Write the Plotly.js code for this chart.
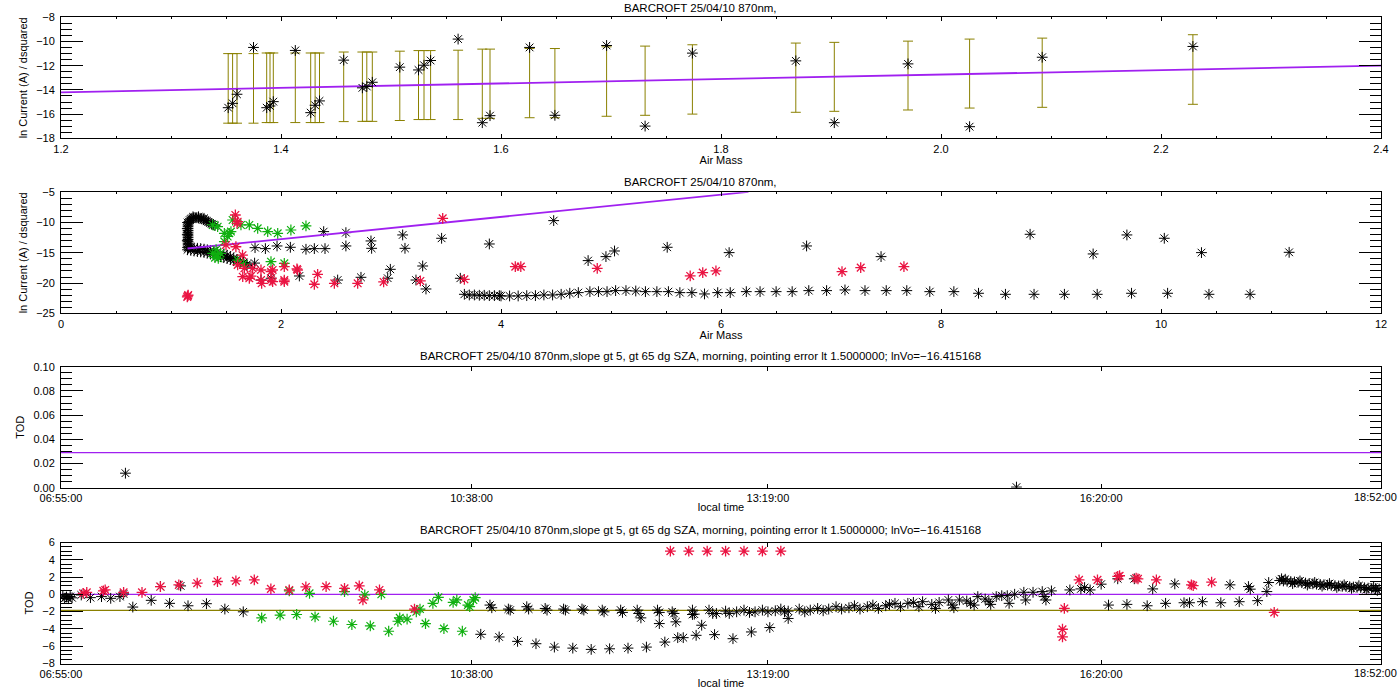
<!DOCTYPE html>
<html>
<head>
<meta charset="utf-8">
<script src="https://cdn.plot.ly/plotly-3.0.1.min.js"></script>
<style>html,body{margin:0;padding:0;background:#fff;}#chart{width:1400px;height:700px;}</style>
</head>
<body>
<div id="chart"></div>
<script>
// ---------- Panel 1 : ln current vs air mass (selected points) ----------
const p1AirMass = [1.352,1.356,1.360,1.375,1.387,1.390,1.393,1.413,1.427,1.431,1.435,1.457,1.474,1.478,1.483,1.508,1.525,1.530,1.536,1.561,1.583,1.590,1.626,1.649,1.696,1.731,1.774,1.868,1.903,1.970,2.026,2.092,2.229];
const p1LnCurrent = [-15.47,-15.11,-14.36,-10.49,-15.47,-15.33,-14.97,-10.74,-15.88,-15.27,-14.91,-11.54,-13.83,-13.72,-13.37,-12.12,-12.35,-11.96,-11.57,-9.80,-16.71,-16.13,-10.49,-16.10,-10.33,-16.99,-10.96,-11.60,-16.71,-11.85,-17.04,-11.30,-10.41];
const p1ErrTop = [-11.0,-11.0,-11.0,-11.0,-10.95,-10.95,-10.95,-10.95,-10.95,-10.95,-10.95,-10.87,-10.87,-10.87,-10.87,-10.8,-10.75,-10.75,-10.75,-10.72,-10.63,-10.63,-10.58,-10.58,-10.44,-10.38,-10.27,-10.13,-10.07,-9.97,-9.8,-9.72,-9.44];
const p1ErrBottom = [-16.75,-16.75,-16.75,-16.75,-16.7,-16.7,-16.7,-16.7,-16.7,-16.7,-16.7,-16.62,-16.6,-16.6,-16.6,-16.53,-16.45,-16.45,-16.45,-16.45,-16.35,-16.35,-16.3,-16.3,-16.18,-16.1,-16.0,-15.85,-15.77,-15.66,-15.5,-15.44,-15.19];
const p1FitAirMass = [1.2, 2.4];
const p1FitLn = [-14.2, -12.0];

// ---------- Panel 2 : ln current vs air mass (all points) ----------
const p2FitAirMass = [1.15, 6.25];
const p2FitLn = [-14.29, -4.94];
const p2BlackLoop = [[1.40,-10.5],[1.385,-10.35],[1.37,-10.2],[1.355,-10.05],[1.34,-9.9],[1.325,-9.75],[1.31,-9.6],[1.295,-9.5],[1.28,-9.4],[1.265,-9.3],[1.25,-9.25],[1.235,-9.2],[1.22,-9.2],[1.205,-9.22],[1.19,-9.3],[1.18,-9.42],[1.17,-9.6],[1.163,-9.85],[1.16,-10.1],
  [1.155,-10.4],[1.155,-10.7],[1.155,-11.0],[1.155,-11.3],[1.155,-11.6],[1.155,-11.9],[1.155,-12.2],[1.155,-12.5],[1.155,-12.8],[1.155,-13.1],[1.155,-13.4],[1.155,-13.7],[1.16,-14.0],[1.16,-14.2],
  [1.15,-10.0],[1.148,-11.0],[1.148,-12.0],[1.148,-13.0],[1.20,-9.05],[1.25,-9.05],[1.30,-9.3]];
const p2BlackBand = [[1.15,-14.1],[1.18,-14.1],[1.21,-14.2],[1.24,-14.25],[1.27,-14.3],[1.30,-14.4],[1.33,-14.5],[1.36,-14.6],[1.39,-14.75],[1.42,-14.9],[1.45,-15.05],[1.48,-15.2],[1.51,-15.4],[1.54,-15.6],[1.57,-15.85],[1.60,-16.1],[1.63,-16.35],[1.66,-16.6],[1.69,-16.9],
  [1.15,-14.5],[1.18,-14.6],[1.21,-14.7],[1.24,-14.8],[1.27,-14.85],[1.30,-14.95],[1.33,-15.05],[1.36,-15.2],[1.39,-15.35],[1.42,-15.5],[1.45,-15.65],[1.48,-15.8],[1.51,-15.95],[1.54,-16.1],[1.57,-16.3],[1.60,-16.5],[1.63,-16.7],[1.66,-16.9],[1.69,-17.1]];
const p2BlackScatter = [[1.764,-14.15],[1.858,-14.31],[1.964,-13.87],[2.085,-14.09],[2.227,-14.42],[2.303,-14.31],[2.4,-14.31],[2.388,-11.5],[2.59,-11.67],[2.59,-13.87],[2.818,-13.04],[2.824,-14.26],[3.106,-12.05],[3.127,-14.26],[3.46,-12.6],[3.894,-13.54],[1.76,-16.7],[1.818,-19.5],[1.91,-19.2],[2.167,-18.83],[2.515,-19.5],[2.727,-19.05],[2.97,-19.2],[2.994,-17.73],[3.227,-19.5],[3.288,-17.18],[3.318,-20.98],[3.63,-19.21],
  [4.479,-9.68],[4.792,-16.29],[4.954,-15.63],[5.032,-14.7],[5.511,-14.09],[6.074,-14.97],[6.778,-13.87],[7.455,-15.63],[8.81,-11.94],[9.383,-15.19],[9.69,-12.05],[10.03,-12.6],[10.368,-14.97],[11.165,-14.92]];
const p2BlackFloor = [[3.667,-21.86],[3.712,-21.97],[3.758,-21.97],[3.803,-22.02],[3.848,-22.02],[3.894,-22.08],[3.94,-22.08],[3.985,-22.08],
  [4.0,-22.13],[4.078,-22.13],[4.156,-22.13],[4.234,-22.08],[4.313,-22.08],[4.39,-21.97],[4.469,-21.97],[4.547,-21.86],[4.625,-21.69],[4.703,-21.58],
  [4.808,-21.42],[4.886,-21.42],[4.964,-21.42],[5.042,-21.25],[5.136,-21.25],[5.225,-21.31],[5.313,-21.42],[5.417,-21.42],[5.522,-21.42],[5.626,-21.58],
  [5.735,-21.58],[5.85,-21.8],[5.97,-21.58],[6.084,-21.58],[6.23,-21.42],[6.355,-21.42],[6.501,-21.42],[6.647,-21.42],[6.798,-21.25],[6.96,-21.25],
  [7.127,-21.14],[7.309,-21.25],[7.502,-21.25],[7.689,-21.25],[7.898,-21.42],[8.117,-21.42],[8.341,-21.69],[8.586,-21.86],[8.846,-21.86],[9.122,-21.86],
  [9.42,-21.86],[9.732,-21.69],[10.06,-21.69],[10.436,-21.86],[10.81,-21.86]];
const p2Red = [[1.148,-22.3],[1.152,-22.13],[1.156,-22.0],[1.585,-8.75],[1.606,-9.86],[1.6,-10.12],[1.5,-13.7],[1.59,-14.0],[1.65,-15.4],[1.606,-17.0],[1.667,-17.56],[1.742,-17.56],[1.652,-18.95],[1.727,-18.84],[1.712,-19.21],[1.818,-17.84],[1.818,-19.5],[1.824,-20.04],[1.909,-18.12],[1.924,-17.84],[1.909,-19.5],[1.924,-19.77],[2.03,-17.29],[2.03,-19.5],[2.03,-19.77],[2.15,-17.84],[2.145,-17.67],[2.303,-20.2],[2.333,-18.55],[2.485,-20.04],[2.697,-20.04],[2.933,-19.82],[3.267,-19.65],[3.47,-9.3],[3.667,-19.38],
  [4.13,-17.29],[4.18,-17.29],[4.875,-17.56],[5.72,-18.83],[5.834,-18.28],[5.954,-18.0],[7.1,-18.11],[7.27,-17.45],[7.663,-17.29]];
const p2Green = [[1.379,-10.4],[1.424,-10.68],[1.485,-11.78],[1.53,-11.78],[1.545,-11.5],[1.56,-9.58],[1.636,-10.4],[1.712,-10.4],[1.788,-10.95],[1.879,-11.5],[1.97,-11.78],[2.09,-11.23],[2.227,-10.56],
  [1.485,-13.15],[1.515,-12.3],[1.379,-15.08],[1.424,-15.36],[1.41,-14.5],[1.40,-15.8],[1.43,-15.9],[1.45,-15.1],[1.606,-16.2],[1.66,-16.85],[1.909,-16.47],[2.03,-16.74]];

// ---------- Panel 3 : TOD vs local time (selection) ----------
const p3Points = [['07:30',0.012],['15:34',0.0005]];
const p3RefTod = 0.029;

// ---------- Panel 4 : TOD vs local time (all) ----------
const p4ZeroTod = 0;
const p4MeanTod = -1.85;
const p4Black = [
  ['06:56',-0.20],['06:57',-0.45],['06:58',-0.30],['06:59',-0.50],['07:00',-0.25],['07:01',-0.40],['07:06',-0.07],['07:11',-0.38],['07:17',-0.26],['07:22',-0.46],
  ['07:27',-0.26],['07:29',0.05],['07:34',-1.47],['07:44',-0.69],['07:49',0.90],['07:54',-1.04],['08:00',0.98],['08:04',-1.32],['08:14',-1.08],['08:24',-1.70],['08:34',-2.02],
  ['10:43',-4.62],['10:48',-1.24],['10:49',-1.55],['10:53',-4.93],['10:58',-1.70],['10:59',-1.82],['11:03',-5.44],['11:08',-1.43],['11:09',-1.70],['11:13',-5.71],
  ['11:18',-1.63],['11:19',-1.82],['11:23',-6.10],['11:28',-1.70],['11:29',-1.82],['11:33',-6.22],['11:38',-1.70],['11:39',-1.82],['11:43',-6.37],['11:49',-1.82],
  ['11:50',-2.02],['11:53',-6.30],['11:59',-1.82],['12:00',-2.09],['12:03',-6.22],['12:08',-1.82],['12:09',-2.21],['12:10',-2.72],['12:13',-6.10],['12:19',-1.82],
  ['12:20',-2.09],['12:20',-3.38],['12:23',-5.52],['12:27',-2.02],['12:28',-2.21],['12:29',-3.18],['12:30',-5.01],['12:33',-5.01],['12:38',-1.82],['12:38',-2.33],
  ['12:39',-2.29],['12:40',-4.74],['12:43',-3.57],['12:47',-1.82],['12:49',-2.21],['12:50',-4.66],['12:51',-2.21],['12:56',-1.94],['12:58',-2.21],['13:00',-5.13],
  ['13:02',-2.02],['13:06',-1.82],['13:09',-2.09],['13:10',-4.35],['13:12',-2.02],['13:16',-1.82],['13:19',-2.02],['13:20',-3.84],['13:23',-1.90],['13:26',-1.70],
  ['13:28',-2.02],['13:30',-1.94],['13:30',-2.79],['13:36',-1.70],['13:39',-2.02],['13:42',-1.82],['13:46',-1.63],['13:49',-1.90],['13:52',-1.70],['13:56',-1.43],
  ['13:59',-1.70],['14:03',-1.55],['14:06',-1.32],['14:09',-1.70],['14:13',-1.43],['14:16',-1.24],['14:19',-1.63],['14:23',-1.32],['14:25',-1.16],['14:28',-1.04],
  ['14:31',-1.43],['14:35',-1.04],['14:38',-0.93],['14:41',-1.43],['14:43',-0.85],['14:48',-1.16],['14:50',-1.63],['14:52',-0.93],['14:57',-0.65],['14:59',-1.24],
  ['15:00',-1.55],['15:03',-0.65],['15:07',-0.77],['15:09',-1.04],['15:11',-1.24],['15:13',-0.26],['15:17',-0.54],['15:19',-0.85],['15:20',-1.16],['15:23',-0.26],
  ['15:26',-0.15],['15:29',-0.15],['15:30',-1.04],['15:33',0.01],['15:38',0.24],['15:39',-0.65],['15:43',0.24],['15:48',0.32],['15:49',-0.26],['15:50',-0.65],
  ['15:53',0.40],['16:03',0.51],['16:09',0.63],['16:11',0.79],['16:14',0.51],['16:20',1.18],['16:24',-1.24],['16:29',1.80],['16:34',-1.16],['16:38',1.80],
  ['16:45',-1.32],['16:48',0.63],['16:55',-1.04],['17:00',1.21],['17:05',-0.97],['17:08',-0.97],['17:15',-0.85],['17:25',-0.97],['17:30',1.10],['17:35',-0.85],
  ['17:40',0.90],['17:41',0.60],['17:45',-0.73],['17:50',0.32],['17:51',1.37]];
const p4BlackEvening = [
  ['17:57',1.60],['17:58',1.80],['17:59',1.55],['18:00',1.75],['18:01',1.52],['18:03',1.48],['18:04',1.25],['18:05',1.44],['18:07',1.40],['18:08',1.55],
  ['18:09',1.35],['18:11',1.30],['18:12',1.08],['18:13',1.26],['18:15',1.22],['18:16',1.38],['18:17',1.18],['18:19',1.15],['18:20',0.95],['18:21',1.11],
  ['18:23',1.07],['18:24',1.25],['18:25',1.04],['18:27',1.00],['18:28',0.80],['18:29',0.97],['18:31',0.94],['18:32',1.10],['18:33',0.91],['18:35',0.88],
  ['18:36',0.70],['18:37',0.85],['18:39',0.82],['18:40',1.00],['18:41',0.79],['18:43',0.76],['18:44',0.55],['18:45',0.72],['18:47',0.69],['18:48',0.85],
  ['18:49',0.66],['18:50',0.45],['18:51',0.63]];
const p4Red = [
  ['07:07',0.12],['07:09',0.24],['07:18',0.40],['07:19',0.51],['07:29',0.24],['07:39',0.24],['07:49',0.90],['07:59',1.10],['08:09',1.29],['08:20',1.49],
  ['08:30',1.56],['08:40',1.68],['08:49',0.63],['08:59',0.51],['09:08',0.86],['09:19',0.90],['09:29',0.70],['09:37',0.98],['09:39',-0.65],['09:48',0.51],['10:07',-1.70],
  ['12:26',5.0],['12:36',5.0],['12:46',5.0],['12:56',5.0],['13:06',5.0],['13:16',5.0],['13:26',5.0],
  ['15:59',-4.93],['15:59',-4.04],['16:00',-1.63],['16:08',1.68],['16:18',1.68],['16:29',2.07],['16:30',2.15],['16:39',1.88],['16:40',1.80],['16:50',1.68],
  ['17:09',1.10],['17:10',1.02],['17:20',1.41],['17:54',-2.09]];
const p4Green = [
  ['08:44',-2.72],['08:54',-2.40],['09:03',-2.33],['09:13',-2.60],['09:23',-3.11],['09:33',-3.49],['09:43',-3.65],['09:53',-4.27],['08:59',0.40],['09:10',0.12],
  ['09:29',0.32],['09:40',-0.07],['09:49',0.00],['09:58',-3.11],['09:59',-2.72],['10:03',-2.87],['10:08',-2.02],['10:10',-1.70],['10:13',-3.38],['10:17',-1.04],
  ['10:20',-0.34],['10:23',-3.96],['10:28',-0.93],['10:30',-0.65],['10:33',-4.27],['10:36',-1.24],['10:37',-1.43],['10:39',-0.65],['10:40',-0.38]];

const timeRange = ['06:55:00', '18:52:00.5'];
const timeTicks = ['06:55:00', '10:38:00', '13:19:00', '16:20:00', '18:52:00'];
const airMassTicks1 = [1.2, 1.4, 1.6, 1.8, 2.0, 2.2, 2.4];

const titleShort = 'BARCROFT 25/04/10 870nm,';
const titleLong = 'BARCROFT 25/04/10 870nm,slope gt 5, gt 65 dg SZA, morning, pointing error lt 1.5000000; lnVo=\u221216.415168';

// ---------- helpers ----------
const DAY = '2010-04-25 ';
const tm = s => DAY + (s.length === 5 ? s + ':00' : s);
const xs = a => a.map(p => p[0]);
const ys = a => a.map(p => p[1]);

const C_PURPLE = '#a020f0', C_OLIVE = '#8a8000', C_RED = '#ea1442', C_GREEN = '#10b010', C_BLACK = '#000';
const FONT = {family: '"Liberation Sans", Arial, sans-serif', size: 11, color: '#000'};
const star = (color, w) => ({symbol: 'asterisk-open', size: 9, color: color, line: {color: color, width: w || 1}});

function sc(x, y, xa, ya, color, w) {
  return {type: 'scatter', mode: 'markers', x: x, y: y, xaxis: xa, yaxis: ya, marker: star(color, w), hoverinfo: 'skip', showlegend: false, cliponaxis: true};
}
function ln(x, y, xa, ya, color, w) {
  return {type: 'scatter', mode: 'lines', x: x, y: y, xaxis: xa, yaxis: ya, line: {color: color, width: w}, hoverinfo: 'skip', showlegend: false};
}

const traces = [];
// panel 1
traces.push({type: 'scatter', mode: 'markers', x: p1AirMass, y: p1ErrTop.map((t, i) => (t + p1ErrBottom[i]) / 2),
  xaxis: 'x', yaxis: 'y', marker: {size: 1, color: 'rgba(0,0,0,0)'}, showlegend: false, hoverinfo: 'skip',
  error_y: {type: 'data', symmetric: true, array: p1ErrTop.map((t, i) => (t - p1ErrBottom[i]) / 2), color: C_OLIVE, thickness: 1, width: 5}});
traces.push(ln(p1FitAirMass, p1FitLn, 'x', 'y', C_PURPLE, 1.8));
traces.push(sc(p1AirMass, p1LnCurrent, 'x', 'y', C_BLACK));
// panel 2
const p2BlackAll = p2BlackLoop.concat(p2BlackBand, p2BlackScatter, p2BlackFloor);
traces.push(sc(xs(p2BlackAll), ys(p2BlackAll), 'x2', 'y2', C_BLACK));
traces.push(ln(p2FitAirMass, p2FitLn, 'x2', 'y2', C_PURPLE, 1.8));
traces.push(sc(xs(p2Green), ys(p2Green), 'x2', 'y2', C_GREEN, 1.2));
traces.push(sc(xs(p2Red), ys(p2Red), 'x2', 'y2', C_RED, 1.3));
// panel 3
traces.push(ln(timeRange.map(tm), [p3RefTod, p3RefTod], 'x3', 'y3', C_PURPLE, 1.3));
traces.push(sc(xs(p3Points).map(tm), ys(p3Points), 'x3', 'y3', C_BLACK));
// panel 4
traces.push(ln(timeRange.map(tm), [p4ZeroTod, p4ZeroTod], 'x4', 'y4', C_PURPLE, 1.3));
traces.push(ln(timeRange.map(tm), [p4MeanTod, p4MeanTod], 'x4', 'y4', C_OLIVE, 1.3));
const p4BlackAll = p4Black.concat(p4BlackEvening);
traces.push(sc(xs(p4BlackAll).map(tm), ys(p4BlackAll), 'x4', 'y4', C_BLACK));
traces.push(sc(xs(p4Green).map(tm), ys(p4Green), 'x4', 'y4', C_GREEN, 1.2));
traces.push(sc(xs(p4Red).map(tm), ys(p4Red), 'x4', 'y4', C_RED, 1.3));

// ---------- axes ----------
const XDOM = [61 / 1400, 1381 / 1400];
const dom = (top, bottom) => [1 - bottom / 700, 1 - top / 700];
function yAxis(anchor, domain, range, dtick, minor, fmt, title) {
  return {anchor: anchor, domain: domain, range: range, tick0: 0, dtick: dtick, tickformat: fmt,
    ticks: 'inside', ticklen: 22, tickwidth: 1, tickcolor: '#000',
    minor: {dtick: minor, tick0: 0, ticks: 'inside', ticklen: 11, tickwidth: 1, tickcolor: '#000', showgrid: false},
    showline: true, linecolor: '#000', linewidth: 1, mirror: 'ticks', showgrid: false, zeroline: false,
    tickfont: FONT, ticklabelstandoff: 3, automargin: false, fixedrange: true,
    title: {text: title, font: FONT, standoff: 6}};
}
function xNum(anchor, range, dtick, minor, fmt, title) {
  return {anchor: anchor, domain: XDOM, range: range, tick0: 0, dtick: dtick, tickformat: fmt,
    ticks: 'inside', ticklen: 4, tickwidth: 1, tickcolor: '#000',
    minor: {dtick: minor, tick0: 0, ticks: 'inside', ticklen: 2, tickwidth: 1, tickcolor: '#000', showgrid: false},
    showline: true, linecolor: '#000', linewidth: 1, mirror: 'ticks', showgrid: false, zeroline: false,
    tickfont: FONT, automargin: false, fixedrange: true, ticklabeloverflow: 'allow',
    title: {text: title, font: FONT, standoff: 0}};
}
// the last time label sits on the right edge; it is drawn as a right-aligned annotation so it stays whole
const lastTick = timeTicks.length - 1;
function xTime(anchor) {
  return {anchor: anchor, domain: XDOM, type: 'date', range: timeRange.map(tm),
    tickmode: 'array', tickvals: timeTicks.map(tm), ticktext: timeTicks.map((t, i) => i === lastTick ? '' : t),
    ticks: 'inside', ticklen: 4, tickwidth: 1, tickcolor: '#000',
    showline: true, linecolor: '#000', linewidth: 1, mirror: 'ticks', showgrid: false, zeroline: false,
    tickfont: FONT, automargin: false, fixedrange: true, ticklabeloverflow: 'allow',
    title: {text: 'local time', font: FONT, standoff: 0}};
}

const ann = (text, ypx) => ({text: text, xref: 'paper', yref: 'paper', x: 0.5, y: 1 - ypx / 700, xanchor: 'center', yanchor: 'middle', showarrow: false, font: Object.assign({}, FONT, {size: 11.5})});
const edgeLabel = ypx => ({text: timeTicks[lastTick], xref: 'paper', yref: 'paper', x: 1, y: 1 - ypx / 700, xanchor: 'right', yanchor: 'middle', showarrow: false, font: FONT, xshift: -1});

const layout = {
  width: 1400, height: 700, paper_bgcolor: '#fff', plot_bgcolor: '#fff',
  margin: {l: 0, r: 0, t: 0, b: 0}, showlegend: false, font: FONT,
  xaxis: Object.assign(xNum('y', [1.2, 2.4], 0.2, 0.05, '.1f', 'Air Mass'), {tickmode: 'array', tickvals: airMassTicks1}),
  yaxis: yAxis('x', dom(17.3, 138.3), [-18, -8], 2, 0.5, 'd', 'ln Current (A) / dsquared'),
  xaxis2: xNum('y2', [0, 12], 2, 0.5, 'd', 'Air Mass'),
  yaxis2: yAxis('x2', dom(192.3, 313.3), [-25, -5], 5, 1, 'd', 'ln Current (A) / dsquared'),
  xaxis3: xTime('y3'),
  yaxis3: yAxis('x3', dom(366.7, 487.7), [0, 0.1], 0.02, 0.005, '.2f', 'TOD'),
  xaxis4: xTime('y4'),
  yaxis4: yAxis('x4', dom(542.5, 663.5), [-8, 6], 2, 0.5, 'd', 'TOD'),
  annotations: [ann(titleShort, 8), ann(titleShort, 182), ann(titleLong, 356), ann(titleLong, 530),
    edgeLabel(496.5), edgeLabel(672.5)]
};

Plotly.newPlot('chart', traces, layout, {staticPlot: true, displayModeBar: false});
</script>
</body>
</html>
